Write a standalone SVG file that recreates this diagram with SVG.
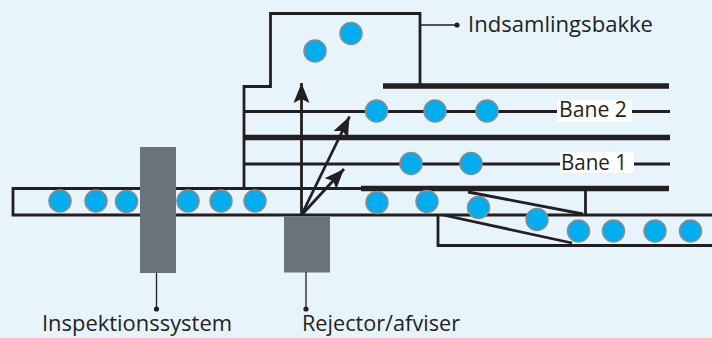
<svg xmlns="http://www.w3.org/2000/svg" width="712" height="338" viewBox="0 0 712 338">
  <defs>
    <style>
      .bg { fill: #e8f4fc; }
      .ln { stroke: #231f20; stroke-width: 2.8; fill: none; }
      .thick { stroke: #231f20; stroke-width: 5.5; fill: none; }
      .leader { stroke: #231f20; stroke-width: 1.3; fill: none; }
      .dot { fill: #231f20; }
      .item { fill: #00adef; stroke: #8c8c8c; stroke-width: 1.5; }
      .unit { fill: #69737a; }
      .lbl { font-family: "Open Sans", "Noto Sans", sans-serif; font-size: 22px; fill: #231f20; }
      .lane { font-family: "Open Sans", "Noto Sans", sans-serif; font-size: 21px; fill: #231f20; }
      .tag { fill: #ffffff; }
      .arr { stroke: #231f20; stroke-width: 2.8; fill: none; marker-end: url(#head); }
    </style>
    <marker id="head" markerUnits="userSpaceOnUse" markerWidth="22" markerHeight="18" viewBox="0 0 22 18" refX="20" refY="9" orient="auto">
      <path d="M0,1 L20,9 L0,17 L4,9 Z" fill="#231f20"/>
    </marker>
  </defs>

  <rect class="bg" x="0" y="0" width="712" height="338"/>

  <!-- main infeed conveyor -->
  <g id="conveyor">
    <path class="ln" d="M361,188.5 H13 V215 H712"/>
    <path class="ln" d="M585.5,188.5 V215"/>
    <!-- lower outfeed conveyor -->
    <path class="ln" d="M438,215 V245.5 H712"/>
    <!-- diverter guides -->
    <path class="ln" d="M468,192 L583,214"/>
    <path class="ln" d="M443,215 L572,243"/>
  </g>

  <!-- sorting lanes and collection tray -->
  <g id="lanes">
    <path class="ln" d="M244,111.5 H670"/>
    <path class="thick" d="M244,137.5 H670"/>
    <path class="ln" d="M244,164 H670"/>
    <path class="thick" d="M361,188.5 H669"/>
    <path class="thick" d="M383,86 H669"/>
  </g>

  <g id="tray">
    <path class="ln" d="M244,188 V86.5 H270.5 V13.5 H420 V84"/>
    <path class="leader" d="M420,25 H457"/>
    <circle class="dot" cx="457" cy="25" r="2.6"/>
    <text class="lbl" x="468" y="32" textLength="185" lengthAdjust="spacingAndGlyphs">Indsamlingsbakke</text>
  </g>

  <g id="lane2-label">
    <rect class="tag" x="557" y="100" width="75" height="22"/>
    <text class="lane" x="559" y="117" textLength="68" lengthAdjust="spacingAndGlyphs">Bane 2</text>
  </g>
  <g id="lane1-label">
    <rect class="tag" x="560" y="152" width="74" height="21"/>
    <text class="lane" x="561" y="169.5" textLength="66" lengthAdjust="spacingAndGlyphs">Bane 1</text>
  </g>

  <!-- products -->
  <g id="products">
    <circle class="item" cx="315" cy="51" r="11"/>
    <circle class="item" cx="351" cy="33.5" r="11"/>
    <circle class="item" cx="376.5" cy="111" r="11"/>
    <circle class="item" cx="435" cy="111" r="11"/>
    <circle class="item" cx="487" cy="111" r="11"/>
    <circle class="item" cx="411" cy="163.5" r="11"/>
    <circle class="item" cx="471" cy="163.5" r="11"/>
    <circle class="item" cx="60" cy="201" r="11"/>
    <circle class="item" cx="96" cy="201" r="11"/>
    <circle class="item" cx="126.5" cy="201.5" r="11"/>
    <circle class="item" cx="188" cy="201" r="11"/>
    <circle class="item" cx="221" cy="201" r="11"/>
    <circle class="item" cx="255" cy="201" r="11"/>
    <circle class="item" cx="377" cy="202.5" r="11"/>
    <circle class="item" cx="427" cy="201.5" r="11"/>
    <circle class="item" cx="478.5" cy="207.5" r="11"/>
    <circle class="item" cx="537" cy="219.5" r="11"/>
    <circle class="item" cx="578.5" cy="231" r="11"/>
    <circle class="item" cx="613.5" cy="231" r="11"/>
    <circle class="item" cx="655" cy="231" r="11"/>
    <circle class="item" cx="690.5" cy="231" r="11"/>
  </g>

  <!-- inspection system -->
  <g id="inspection">
    <rect class="unit" x="140" y="147" width="36" height="126"/>
    <path class="leader" d="M156.5,273 V309"/>
    <circle class="dot" cx="156.5" cy="309" r="2.6"/>
    <text class="lbl" x="42" y="331" textLength="190" lengthAdjust="spacingAndGlyphs">Inspektionssystem</text>
  </g>

  <!-- rejector -->
  <g id="rejector">
    <rect class="unit" x="284" y="216.5" width="46" height="56"/>
    <path class="leader" d="M306,272 V309"/>
    <circle class="dot" cx="306" cy="309" r="2.6"/>
    <text class="lbl" x="302" y="331" textLength="158" lengthAdjust="spacingAndGlyphs">Rejector/afviser</text>
  </g>

  <!-- reject directions -->
  <g id="connectors">
    <path class="arr" d="M301.5,215 L301.5,83"/>
    <path class="arr" d="M301.5,215 L349.5,116.5"/>
    <path class="arr" d="M301.5,215 L344,169"/>
  </g>
</svg>
